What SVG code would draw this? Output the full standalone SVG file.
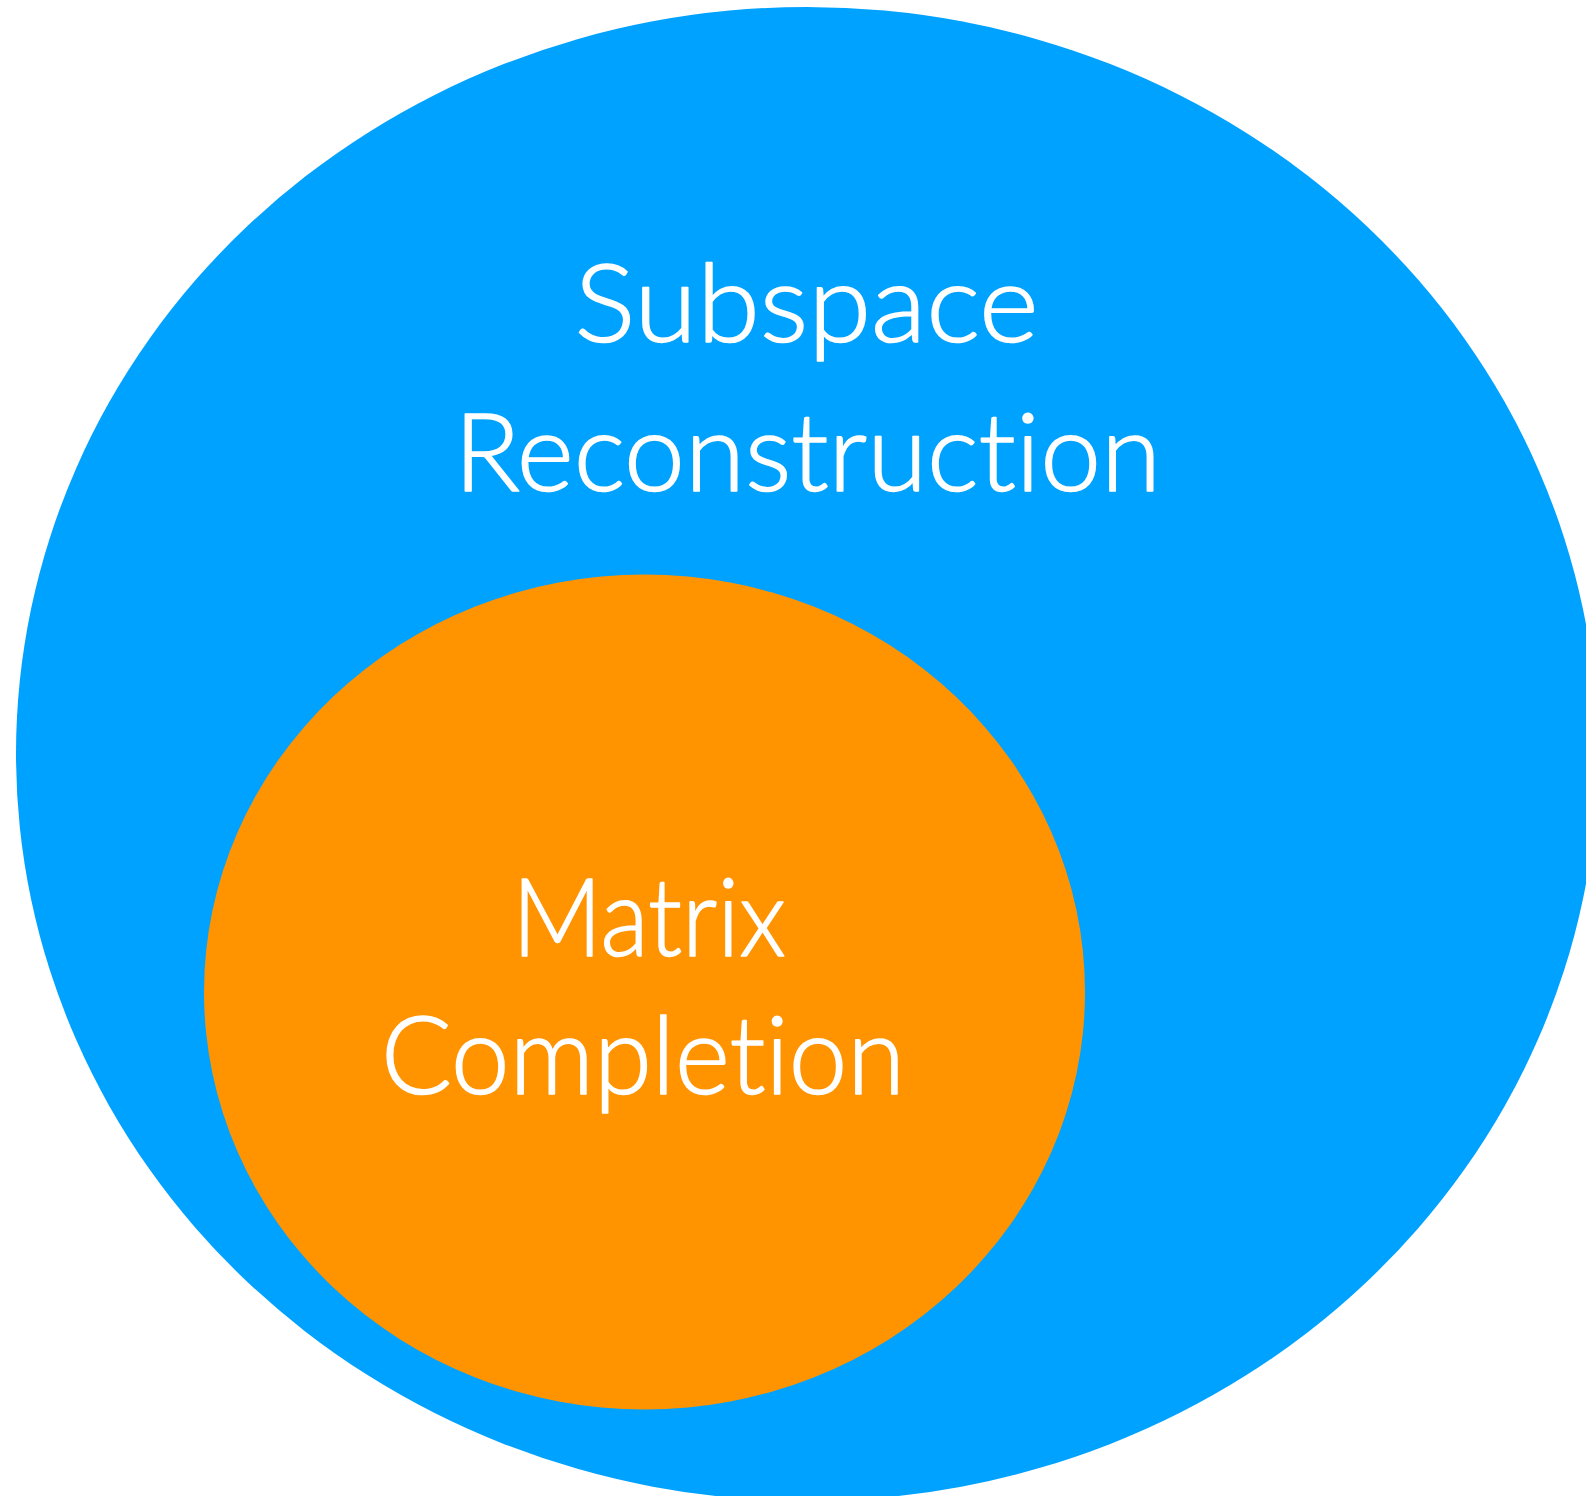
<svg xmlns="http://www.w3.org/2000/svg" width="1586" height="1496" viewBox="0 0 1586 1496">
  <style>
    .label { font-family: "Lato", "Noto Sans", "Liberation Sans", sans-serif; font-weight: 300; font-size: 109px; fill: #FFFFFF; stroke: #FFFFFF; stroke-width: 1.6px; stroke-linejoin: round; font-variant-ligatures: none; font-feature-settings: "liga" 0, "clig" 0; }
  </style>
  <rect width="1586" height="1496" fill="#FFFFFF"/>
  <g id="subspace-reconstruction">
    <ellipse cx="807" cy="754" rx="791" ry="747" fill="#00A2FF"/>
    <text class="label" x="574.5" y="342" textLength="464" lengthAdjust="spacingAndGlyphs">Subspace</text>
    <text class="label" x="454" y="491" textLength="707" lengthAdjust="spacingAndGlyphs">Reconstruction</text>
  </g>
  <g id="matrix-completion">
    <ellipse cx="644.5" cy="992" rx="440.5" ry="417.5" fill="#FF9300"/>
    <text class="label" x="512" y="956" textLength="274" lengthAdjust="spacingAndGlyphs">Matrix</text>
    <text class="label" x="381" y="1094" textLength="524" lengthAdjust="spacingAndGlyphs">Completion</text>
  </g>
  <g id="connectors"/>
</svg>
